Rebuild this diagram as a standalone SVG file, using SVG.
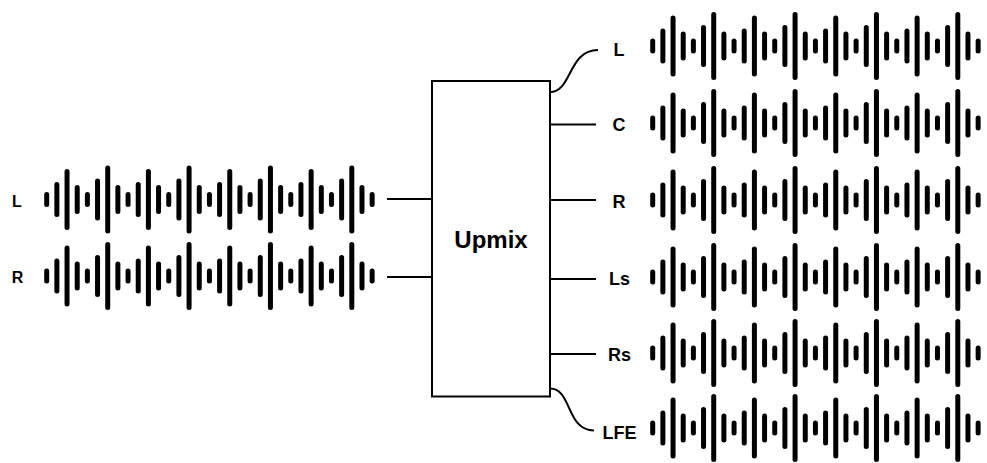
<svg xmlns="http://www.w3.org/2000/svg" xmlns:xlink="http://www.w3.org/1999/xlink" width="987" height="463" viewBox="0 0 987 463">
<style>
.bg{fill:#ffffff}
.wave{fill:none;stroke:#000;stroke-width:5;stroke-linecap:round}
.box{fill:#fff;stroke:#000;stroke-width:2}
.conn{fill:none;stroke:#000;stroke-width:2}
.lbl{font-family:"Liberation Sans",Arial,sans-serif;font-weight:bold;font-size:18px;fill:#000;text-anchor:middle}
.lbl-in{font-size:16px}
.title{font-family:"Liberation Sans",Arial,sans-serif;font-weight:bold;font-size:24px;fill:#000;text-anchor:middle}
</style>
<defs>
<path id="wf" class="wave" d="M0 -5V5M10.17 -15V15M20.34 -28V28M30.51 -12V12M40.68 -5V5M50.85 -18.5V18.5M61.02 -31.5V31.5M71.19 -12V12M81.36 -5V5M91.53 -15V15M101.7 -28V28M111.87 -12V12M122.04 -5V5M132.21 -18.5V18.5M142.38 -31.5V31.5M152.55 -12V12M162.72 -5V5M172.89 -15V15M183.06 -28V28M193.23 -12V12M203.4 -5V5M213.57 -18.5V18.5M223.74 -31.5V31.5M233.91 -12V12M244.08 -5V5M254.25 -15V15M264.42 -28V28M274.59 -12V12M284.76 -5V5M294.93 -18.5V18.5M305.1 -31.5V31.5M315.27 -12V12M325.44 -5V5"/>
</defs>
<rect class="bg" x="0" y="0" width="987" height="463"/>
<g id="input-L">
<text class="lbl lbl-in" x="17" y="207">L</text>
<use xlink:href="#wf" href="#wf" transform="translate(46.7,199.5)"/>
</g>
<g id="input-R">
<text class="lbl lbl-in" x="17.5" y="283">R</text>
<use xlink:href="#wf" href="#wf" transform="translate(46.7,276)"/>
</g>
<g id="upmix">
<rect class="box" x="432" y="81" width="118" height="315.5"/>
<text class="title" x="491" y="248">Upmix</text>
</g>
<g id="out-L">
<text class="lbl" x="619" y="55.5">L</text>
<use xlink:href="#wf" href="#wf" transform="translate(652.7,46)"/>
</g>
<g id="out-C">
<text class="lbl" x="619" y="131">C</text>
<use xlink:href="#wf" href="#wf" transform="translate(652.7,123)"/>
</g>
<g id="out-R">
<text class="lbl" x="619" y="207.5">R</text>
<use xlink:href="#wf" href="#wf" transform="translate(652.7,200)"/>
</g>
<g id="out-Ls">
<text class="lbl" x="619.5" y="284.5">Ls</text>
<use xlink:href="#wf" href="#wf" transform="translate(652.7,277)"/>
</g>
<g id="out-Rs">
<text class="lbl" x="619.5" y="360.5">Rs</text>
<use xlink:href="#wf" href="#wf" transform="translate(652.7,353)"/>
</g>
<g id="out-LFE">
<text class="lbl" x="619.5" y="438.5">LFE</text>
<use xlink:href="#wf" href="#wf" transform="translate(652.7,428)"/>
</g>
<g id="connectors">
<path class="conn" d="M387 199H432"/>
<path class="conn" d="M387 277H432"/>
<path class="conn" d="M550 92C572 92 568 50 598 50"/>
<path class="conn" d="M550 124.5H596"/>
<path class="conn" d="M550 200H596"/>
<path class="conn" d="M550 279H596"/>
<path class="conn" d="M550 354H596"/>
<path class="conn" d="M550 388.5C572 388.5 566 430.5 594 430.5"/>
</g>
</svg>
